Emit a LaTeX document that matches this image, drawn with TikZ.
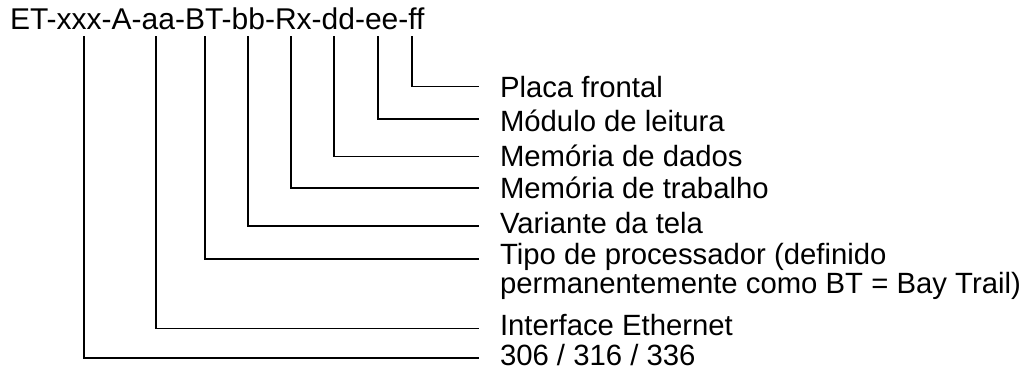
\documentclass[tikz,border=0pt]{standalone}
\usepackage{fontspec}
\setmainfont{Liberation Sans}
\begin{document}
\begin{tikzpicture}[x=1pt,y=-1pt,
  lbl/.style={anchor=base west,inner sep=0pt,outer sep=0pt,align=left,
    font=\fontsize{29.3}{26.7}\selectfont},
  conn/.style={line width=1.6pt,line cap=rect,line join=miter}]
\useasboundingbox[fill=white] (0,0) rectangle (1030,374);
\node[lbl,font=\fontsize{30}{30}\selectfont] (title) at (10,29.3) {ET-xxx-A-aa-BT-bb-Rx-dd-ee-ff};
\node[lbl] (lff) at (500,97.7) {Placa frontal};
\node[lbl] (lee) at (500,131.7) {Módulo de leitura};
\node[lbl] (ldd) at (500,166.7) {Memória de dados};
\node[lbl] (lrx) at (500,198.3) {Memória de trabalho};
\node[lbl] (lbb) at (500,233.3) {Variante da tela};
\node[lbl] (lbt) at (500,293.3) {Tipo de processador (definido\\permanentemente como BT = Bay Trail)};
\node[lbl] (laa) at (500,335) {Interface Ethernet};
\node[lbl] (lxx) at (500,365) {306 / 316 / 336};
% connector ends
\foreach \n/\x/\y in {ff/412/86.7, ee/378/119.3, dd/334/156.7, rx/291/188.3,
                      bb/248/226, bt/205/258.7, aa/156/328.3, xx/84/357.7}{
  \coordinate (s\n) at (\x,37);
  \coordinate (e\n) at (478,\y);
}
\foreach \n in {ff,ee,dd,rx,bb,bt,aa,xx}{
  \draw[conn] (s\n) |- (e\n);
}
\end{tikzpicture}
\end{document}
